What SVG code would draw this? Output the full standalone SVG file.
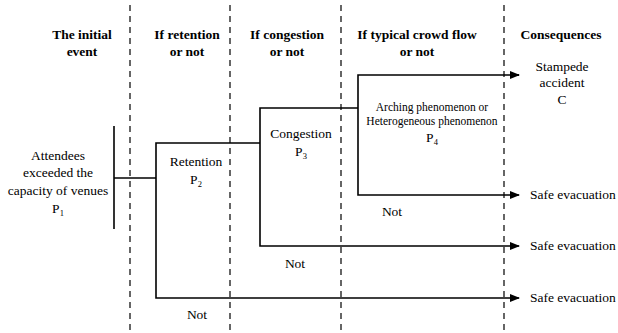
<svg xmlns="http://www.w3.org/2000/svg" width="618" height="333" viewBox="0 0 618 333">
<style>
.dash{stroke:#000;stroke-width:1.2;stroke-dasharray:6,5;fill:none}
.ln{stroke:#000;stroke-width:1.6;fill:none}
</style>
<defs>
<marker id="arr" markerWidth="10" markerHeight="8" refX="9" refY="4" orient="auto" markerUnits="userSpaceOnUse">
<path d="M0,0 L10,4 L0,8 Z" fill="#000"/>
</marker>
</defs>
<rect width="618" height="333" fill="#fff"/>
<g id="columns">
<line class="dash" x1="130" y1="5" x2="130" y2="333"/>
<line class="dash" x1="230" y1="5" x2="230" y2="333"/>
<line class="dash" x1="341" y1="5" x2="341" y2="333"/>
<line class="dash" x1="504" y1="5" x2="504" y2="333"/>
</g>
<g id="headers" font-weight="bold" font-size="13.5" text-anchor="middle">
<text x="82" y="39" font-family="Liberation Serif">The initial</text>
<text x="82" y="56" font-family="Liberation Serif">event</text>
<text x="187" y="39" font-family="Liberation Serif">If retention</text>
<text x="187" y="56" font-family="Liberation Serif">or not</text>
<text x="287" y="39" font-family="Liberation Serif">If congestion</text>
<text x="287" y="56" font-family="Liberation Serif">or not</text>
<text x="417" y="39" font-family="Liberation Serif">If typical crowd flow</text>
<text x="417" y="56" font-family="Liberation Serif">or not</text>
<text x="561" y="39" font-family="Liberation Serif">Consequences</text>
</g>
<g id="node-p1" font-size="13.5" text-anchor="middle">
<text x="58" y="160" font-family="Liberation Serif">Attendees</text>
<text x="58" y="177" font-family="Liberation Serif">exceeded the</text>
<text x="58" y="195" font-family="Liberation Serif">capacity of venues</text>
<text x="58" y="213" font-family="Liberation Serif">P<tspan font-size="8.5" dy="3">1</tspan></text>
</g>
<g id="node-p2" font-size="13.5" text-anchor="middle">
<text x="196" y="166" font-family="Liberation Serif">Retention</text>
<text x="196" y="184" font-family="Liberation Serif">P<tspan font-size="8.5" dy="3">2</tspan></text>
</g>
<g id="node-p3" font-size="13.5" text-anchor="middle">
<text x="301" y="138" font-family="Liberation Serif">Congestion</text>
<text x="301" y="156" font-family="Liberation Serif">P<tspan font-size="8.5" dy="3">3</tspan></text>
</g>
<g id="node-p4" font-size="11.5" text-anchor="middle">
<text x="432" y="111" font-family="Liberation Serif">Arching phenomenon or</text>
<text x="432" y="125" font-family="Liberation Serif">Heterogeneous phenomenon</text>
<text x="432" y="142" font-family="Liberation Serif" font-size="13.5">P<tspan font-size="8.5" dy="3">4</tspan></text>
</g>
<g id="node-c" font-size="13.5" text-anchor="middle">
<text x="562" y="71" font-family="Liberation Serif">Stampede</text>
<text x="562" y="87" font-family="Liberation Serif">accident</text>
<text x="562" y="104" font-family="Liberation Serif">C</text>
</g>
<g id="outcomes" font-size="13.5">
<text x="530" y="199" font-family="Liberation Serif">Safe evacuation</text>
<text x="530" y="250" font-family="Liberation Serif">Safe evacuation</text>
<text x="530" y="302" font-family="Liberation Serif">Safe evacuation</text>
</g>
<g id="not-labels" font-size="13.5" text-anchor="middle">
<text x="392" y="216" font-family="Liberation Serif">Not</text>
<text x="295" y="268" font-family="Liberation Serif">Not</text>
<text x="197" y="319" font-family="Liberation Serif">Not</text>
</g>
<g id="connectors">
<line class="ln" x1="114" y1="126" x2="114" y2="229"/>
<line class="ln" x1="114" y1="178" x2="156" y2="178"/>
<polyline class="ln" points="260,143 156,143 156,298 519,298" marker-end="url(#arr)"/>
<polyline class="ln" points="358,108 260,108 260,246 519,246" marker-end="url(#arr)"/>
<polyline class="ln" points="519,75 358,75 358,195 519,195" marker-end="url(#arr)"/>
<line class="ln" x1="510" y1="75" x2="519" y2="75" marker-end="url(#arr)"/>
</g>
</svg>
